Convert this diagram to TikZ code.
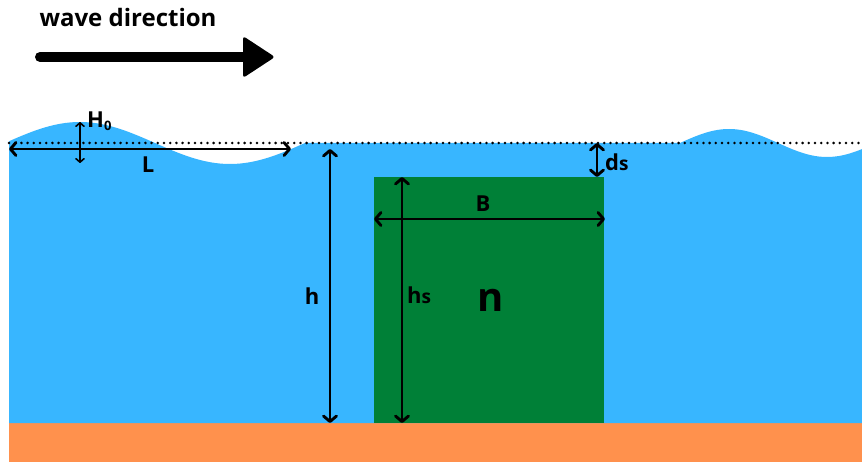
\documentclass[tikz,border=0pt]{standalone}
\usepackage{fontspec}
\setmainfont{Open Sans}
\usetikzlibrary{arrows.meta}
\definecolor{water}{HTML}{38B6FF}
\definecolor{ground}{HTML}{FF914D}
\definecolor{block}{HTML}{008037}
\begin{document}
\begin{tikzpicture}[x=1pt,y=-1pt,
  barb/.tip={Straight Barb[length=5.5pt,width=13pt,line cap=round,line join=round]},
  smallbarb/.tip={Straight Barb[length=3.5pt,width=8pt,line cap=round,line join=round]},
  dim/.style={line width=2.9pt,barb-barb},
  thindim/.style={line width=1.6pt,smallbarb-smallbarb},
  lbl/.style={font=\fontsize{22}{22}\selectfont\bfseries,inner sep=0pt}]
\useasboundingbox (0,0) rectangle (862,462);
% ground and water
\fill[ground] (9,423) rectangle (862,462);
\fill[water] (9,423) -- plot[domain=9:305,samples=90] (\x,{143-21*sin(1.2*(\x-5))})
  -- (680,143) -- plot[domain=680:862,samples=60] (\x,{143-14*sin(1.8367*(\x-680))})
  -- (862,423) -- cycle;
% structure
\fill[block] (374,177) rectangle (604,423);
% still water level
\coordinate (sl) at (9,143);
\coordinate (sr) at (862,143);
\draw[line width=2.8pt,dash pattern=on 0pt off 6.2pt,line cap=round] (sl) -- (sr);
% wave direction
\node[font=\fontsize{24}{24}\selectfont\bfseries,inner sep=0pt] (wdt) at (128,18) {wave direction};
\coordinate (wa) at (40,57);
\coordinate (wb) at (250,57);
\draw[line width=10pt,line cap=round] (wa) -- (wb);
\fill[rounded corners=3pt] (243,36) -- (275,57) -- (243,78) -- cycle;
% L
\coordinate (La) at (9,149);
\coordinate (Lb) at (291,149);
\draw[dim] (La) -- (Lb);
\node[lbl] (L) at (148,165) {L};
% H0
\coordinate (Ha) at (80,122);
\coordinate (Hb) at (80,163);
\draw[thindim] (Ha) -- (Hb);
\node[lbl,anchor=base west] (H0) at (87,128) {H\raisebox{-3pt}{\fontsize{13}{13}\selectfont 0}};
% h
\coordinate (ha) at (330,149);
\coordinate (hb) at (330,423);
\draw[dim] (ha) -- (hb);
\node[lbl] (h) at (312,296) {h};
% hs
\coordinate (hsa) at (402,177);
\coordinate (hsb) at (402,423);
\draw[dim] (hsa) -- (hsb);
\node[lbl,anchor=base west] (hs) at (407,304) {h{\fontsize{19}{19}\selectfont s}};
% B
\coordinate (Ba) at (374,219);
\coordinate (Bb) at (605,219);
\draw[dim] (Ba) -- (Bb);
\node[lbl] (B) at (483,204) {B};
% ds
\coordinate (da) at (597,143);
\coordinate (db) at (597,177);
\draw[dim] (da) -- (db);
\node[lbl,anchor=base west] (ds) at (605,171) {d{\fontsize{19}{19}\selectfont s}};
% n
\node[font=\fontsize{40}{40}\selectfont\bfseries,inner sep=0pt] (n) at (491,300) {n};
\end{tikzpicture}
\end{document}
